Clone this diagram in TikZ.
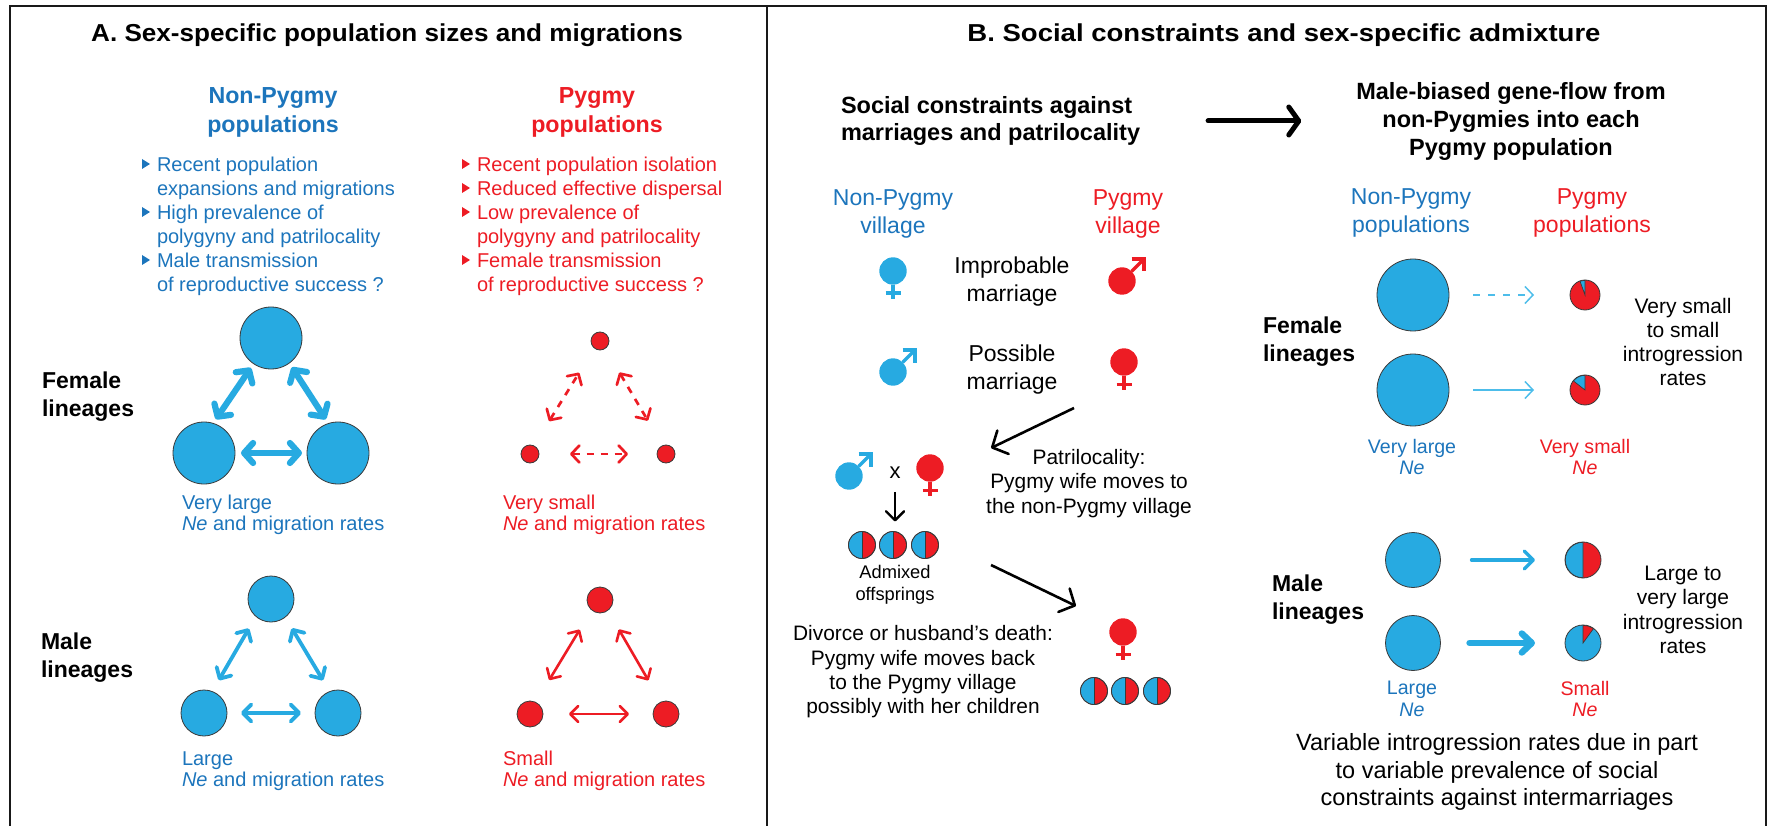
\documentclass[tikz,border=0pt]{standalone}
\usepackage{fontspec}
\setmainfont{Liberation Sans}
\usetikzlibrary{arrows.meta}
\definecolor{bluetext}{HTML}{1C75BC}
\definecolor{bluefill}{HTML}{27AAE1}
\definecolor{bluethin}{HTML}{4DBDEA}
\definecolor{redfill}{HTML}{ED1C24}
\definecolor{outl}{HTML}{3A3A3A}
\newcommand{\fs}[2]{\fontsize{#1}{#2}\selectfont}
\tikzset{
  x=1pt,y=-1pt,
  every node/.style={inner sep=0pt,outer sep=0pt},
  titleA/.style={font=\fs{24.5}{30}\bfseries\addfontfeatures{FakeStretch=1.065},text=black},
  titleB/.style={font=\fs{24.5}{30}\bfseries\addfontfeatures{FakeStretch=1.123},text=black},
  headtxt/.style={font=\fs{23.5}{27.6}\bfseries,align=center},
  colhead/.style={font=\fs{23.2}{28.4}\bfseries,align=center},
  lintxt/.style={font=\fs{23}{28}\bfseries,align=left,anchor=west},
  listtxt/.style={font=\fs{20}{24},align=left,anchor=west},
  neltxt/.style={font=\fs{20}{21.5},align=left,anchor=west},
  nectxt/.style={font=\fs{19.6}{21.5},align=center},
  vilg/.style={font=\fs{23}{27.9},align=center},
  popg/.style={font=\fs{23}{27.6},align=center},
  varg/.style={font=\fs{23.5}{27.3},align=center},
  bodytxt/.style={font=\fs{20.9}{24.3},align=center},
  ratetxt/.style={font=\fs{21}{24.3},align=center},
  popc/.style={circle,draw=outl,line width=0.8pt,minimum size=#1},
  bluec/.style={popc=#1,fill=bluefill},
  redc/.style={popc=#1,fill=redfill},
  sym/.style={circle,minimum size=27.4pt,fill=#1},
  symline/.style={line width=3.4pt,draw=#1,miter limit=10},
  thickB/.style={draw=bluefill,line width=6.2pt,{Straight Barb[length=9pt,width=20pt,round]}-{Straight Barb[length=9pt,width=20pt,round]},line cap=round},
  midB/.style={draw=bluefill,line width=3.8pt,{Straight Barb[length=8.5pt,width=17pt,round]}-{Straight Barb[length=8.5pt,width=17pt,round]},line cap=round},
  dashR/.style={draw=redfill,line width=2.7pt,dash pattern=on 7pt off 7pt,{Straight Barb[length=8pt,width=17pt,round]}-{Straight Barb[length=8pt,width=17pt,round]}},
  midR/.style={draw=redfill,line width=2.6pt,{Straight Barb[length=8pt,width=16pt,round]}-{Straight Barb[length=8pt,width=16pt,round]}},
  blk/.style={draw=black,line width=2.6pt,-{Straight Barb[length=12pt,width=26pt,round]}},
  flowthin/.style={draw=bluethin,line width=1.5pt,-{Straight Barb[length=8pt,width=17pt]}},
}
% symbols and circles
\newcommand{\symfemale}[4]{% name, x, y, colour
  \node[sym=#4] (#1) at (#2,#3) {};
  \draw[symline=#4] (#1.south) -- ++(0,14.5);
  \draw[symline=#4] ([xshift=-7.5pt,yshift=-8.5pt]#1.south) -- ([xshift=7.5pt,yshift=-8.5pt]#1.south);
}
\newcommand{\symmale}[4]{%
  \node[sym=#4] (#1) at (#2,#3) {};
  \draw[symline=#4] (#1.45) -- ([xshift=21pt,yshift=21pt]#1.center);
  \draw[symline=#4] ([xshift=9.5pt,yshift=22pt]#1.center) -- ([xshift=22pt,yshift=22pt]#1.center) -- ([xshift=22pt,yshift=9.5pt]#1.center);
}
\newcommand{\splitc}[3]{%
  \node[redc=27pt] (#1) at (#2,#3) {};
  \fill[bluefill] (#1.center) -- ++(-90:13.2) arc[start angle=-90,end angle=-270,radius=13.2] -- cycle;
  \draw[outl,line width=0.8pt] (#1.north) -- (#1.south);
  \draw[outl,line width=0.8pt] (#1.center) circle[radius=13.5];
}
\begin{document}
\begin{tikzpicture}
\useasboundingbox (0,0) rectangle (1767,826);
% frames
\coordinate (fbl) at (10,830); \coordinate (ftl) at (10,6);
\coordinate (ftr) at (1766,6); \coordinate (fbr) at (1766,830);
\coordinate (dt) at (767,6); \coordinate (db) at (767,830);
\draw[black!90,line width=2.6pt] (fbl) -- (ftl) -- (ftr) -- (fbr);
\draw[black!90,line width=2.8pt] (dt) -- (db);

% ------ Panel A
\node[titleA] (ta) at (387,35) {A. Sex-specific population sizes and migrations};
\node[colhead,text=bluetext] (npa) at (273,112.5) {Non-Pygmy\\populations};
\node[colhead,text=redfill] (pa) at (597,112.5) {Pygmy\\populations};
\node[listtxt,text=bluetext] (lista) at (157,226) {Recent population\\expansions and migrations\\High prevalence of\\polygyny and patrilocality\\Male transmission\\of reproductive success ?};
\node[listtxt,text=redfill] (listb) at (477,226) {Recent population isolation\\Reduced effective dispersal\\Low prevalence of\\polygyny and patrilocality\\Female transmission\\of reproductive success ?};
\foreach \yy in {164,212,260}{
  \fill[bluetext] (142,\yy-5) -- (150,\yy) -- (142,\yy+5) -- cycle;
}
\foreach \yy in {164,188,212,260}{
  \fill[redfill] (462,\yy-5) -- (470,\yy) -- (462,\yy+5) -- cycle;
}
\node[lintxt] (fla) at (42,397) {Female\\lineages};
\node[lintxt] (mla) at (41,658) {Male\\lineages};

% female blue triangle
\node[bluec=62pt] (ft) at (271,338) {};
\node[bluec=62pt] (fl) at (204,453) {};
\node[bluec=62pt] (fr) at (338,453) {};
\draw[thickB,shorten <=5pt,shorten >=5pt] (fl.73.6) -- (ft.236.8);
\draw[thickB,shorten <=5pt,shorten >=5pt] (ft.306) -- (fr.108);
\draw[thickB,shorten <=6pt,shorten >=5pt] (fl.east) -- (fr.west);
\node[neltxt,text=bluetext] (fa) at (182,515) {Very large\\\textit{Ne} and migration rates};
% female red triangle
\node[redc=18pt] (gt) at (600,341) {};
\node[redc=18pt] (gl) at (530,454) {};
\node[redc=18pt] (gr) at (666,454) {};
\draw[dashR,shorten <=29pt,shorten >=29pt] (gl.65.4) -- (gt.232.5);
\draw[dashR,shorten <=28pt,shorten >=29pt] (gt.305) -- (gr.112);
\draw[dashR,shorten <=31pt,shorten >=29pt] (gl.east) -- (gr.west);
\node[neltxt,text=redfill] (ga) at (503,515) {Very small\\\textit{Ne} and migration rates};
% male blue triangle
\node[bluec=46pt] (mt) at (271,599) {};
\node[bluec=46pt] (ml) at (204,713) {};
\node[bluec=46pt] (mr) at (338,713) {};
\draw[midB,shorten <=13pt,shorten >=14pt] (ml.69) -- (mt.229.4);
\draw[midB,shorten <=13pt,shorten >=13pt] (mt.308) -- (mr.111);
\draw[midB,shorten <=14pt,shorten >=14pt] (ml.east) -- (mr.west);
\node[neltxt,text=bluetext] (ma) at (182,771) {Large\\\textit{Ne} and migration rates};
% male red triangle
\node[redc=26pt] (nt) at (600,600) {};
\node[redc=26pt] (nl) at (530,714) {};
\node[redc=26pt] (nr) at (666,714) {};
\draw[midR,shorten <=26pt,shorten >=23pt] (nl.64) -- (nt.230.6);
\draw[midR,shorten <=22pt,shorten >=25pt] (nt.307) -- (nr.113);
\draw[midR,shorten <=26pt,shorten >=24pt] (nl.east) -- (nr.west);
\node[neltxt,text=redfill] (na) at (503,771) {Small\\\textit{Ne} and migration rates};

% ------ Panel B
\node[titleB] (tb) at (1284,35) {B. Social constraints and sex-specific admixture};
\node[headtxt,align=left,anchor=west] (soc) at (841,121) {Social constraints against\\marriages and patrilocality};
\node[headtxt] (mbf) at (1511,121.5) {Male-biased gene-flow from\\non-Pygmies into each\\Pygmy population};
\draw[line width=5pt,line cap=round,-{Straight Barb[length=10pt,width=28pt,round]},shorten <=68pt,shorten >=55pt] (soc.east) -- (soc.east -| mbf.west);

\node[vilg,text=bluetext] (nv) at (893,214) {Non-Pygmy\\village};
\node[vilg,text=redfill] (pv) at (1128,214) {Pygmy\\village};
\node[vilg] (imp) at (1012,282) {Improbable\\marriage};
\node[vilg] (pos) at (1012,370) {Possible\\marriage};
\symfemale{sf1}{893}{271}{bluefill}
\symmale{sm1}{1122}{281}{redfill}
\symmale{sm2}{893}{372}{bluefill}
\symfemale{sf2}{1124}{362}{redfill}

\coordinate (pa1) at (1074,408);
\coordinate (pa2) at (991,448);
\draw[blk] (pa1) -- (pa2);
\node[bodytxt] (pat) at (1089,483.5) {Patrilocality:\\Pygmy wife moves to\\the non-Pygmy village};

\symmale{sm3}{849}{476}{bluefill}
\symfemale{sf3}{930}{468}{redfill}
\node[font=\fs{22}{24}] (xm) at (895,473) {x};
\splitc{oa}{862}{545}
\splitc{ob}{893}{545}
\splitc{oc}{925}{545}
\draw[draw=black,line width=2.4pt,-{Straight Barb[length=9pt,width=18pt,round]},shorten <=13pt,shorten >=10pt] (xm.south) -- (xm.south |- ob.north);
\node[font=\fs{18.3}{22.2},align=center] (adm) at (895,585) {Admixed\\offsprings};

\coordinate (qa1) at (991,565);
\coordinate (qa2) at (1076,606);
\draw[blk] (qa1) -- (qa2);
\node[bodytxt] (div) at (923,672) {Divorce or husband’s death:\\Pygmy wife moves back\\to the Pygmy village\\possibly with her children};
\symfemale{sf4}{1123}{632}{redfill}
\splitc{ra}{1094}{691}
\splitc{rb}{1125}{691}
\splitc{rc}{1157}{691}

% right column
\node[popg,text=bluetext] (npp) at (1411,213) {Non-Pygmy\\populations};
\node[popg,text=redfill] (ppp) at (1592,213) {Pygmy\\populations};
\node[lintxt] (flb) at (1263,342) {Female\\lineages};
\node[lintxt] (mlb) at (1272,600) {Male\\lineages};

\node[bluec=72pt] (c1) at (1413,295) {};
\node[bluec=72pt] (c2) at (1413,390) {};
\node[bluec=55pt] (c3) at (1413,560) {};
\node[bluec=55pt] (c4) at (1413,643) {};
\node[redc=30pt] (p1) at (1585,295) {};
\node[redc=30pt] (p2) at (1585,390) {};
\node[redc=36pt] (p3) at (1583,560) {};
\node[bluec=36pt] (p4) at (1583,643) {};
% wedges
\path[fill=bluefill,draw=outl,line width=0.7pt] (p1.center) -- ++(-90:14.7) arc[start angle=-90,end angle=-110,radius=14.7] -- cycle;
\path[fill=bluefill,draw=outl,line width=0.7pt] (p2.center) -- ++(-90:14.7) arc[start angle=-90,end angle=-142,radius=14.7] -- cycle;
\path[fill=bluefill,draw=outl,line width=0.7pt] (p3.center) -- ++(-90:17.7) arc[start angle=-90,end angle=-270,radius=17.7] -- cycle;
\path[fill=redfill,draw=outl,line width=0.7pt] (p4.center) -- ++(-90:17.7) arc[start angle=-90,end angle=-54,radius=17.7] -- cycle;

\draw[flowthin,dash pattern=on 7pt off 8pt,shorten <=24pt,shorten >=36pt] (c1) -- (p1);
\draw[flowthin,shorten <=24pt,shorten >=36pt] (c2) -- (p2);
\draw[draw=bluefill,line width=3.4pt,line cap=round,-{Straight Barb[length=9pt,width=18pt,round]},shorten <=31pt,shorten >=30pt] (c3) -- (p3);
\draw[draw=bluefill,line width=6.4pt,line cap=round,-{Straight Barb[length=10pt,width=19pt,round]},shorten <=29pt,shorten >=30pt] (c4) -- (p4);

\node[nectxt,text=bluetext] (vl) at (1412,457) {Very large\\\textit{Ne}};
\node[nectxt,text=redfill] (vs) at (1585,457) {Very small\\\textit{Ne}};
\node[nectxt,text=bluetext] (lg) at (1412,699) {Large\\\textit{Ne}};
\node[nectxt,text=redfill] (sm) at (1585,699) {Small\\\textit{Ne}};
\node[ratetxt] (r1) at (1683,342) {Very small\\to small\\introgression\\rates};
\node[ratetxt] (r2) at (1683,610) {Large to\\very large\\introgression\\rates};
\node[varg] (var) at (1497,772) {Variable introgression rates due in part\\to variable prevalence of social\\constraints against intermarriages};
\end{tikzpicture}
\end{document}
